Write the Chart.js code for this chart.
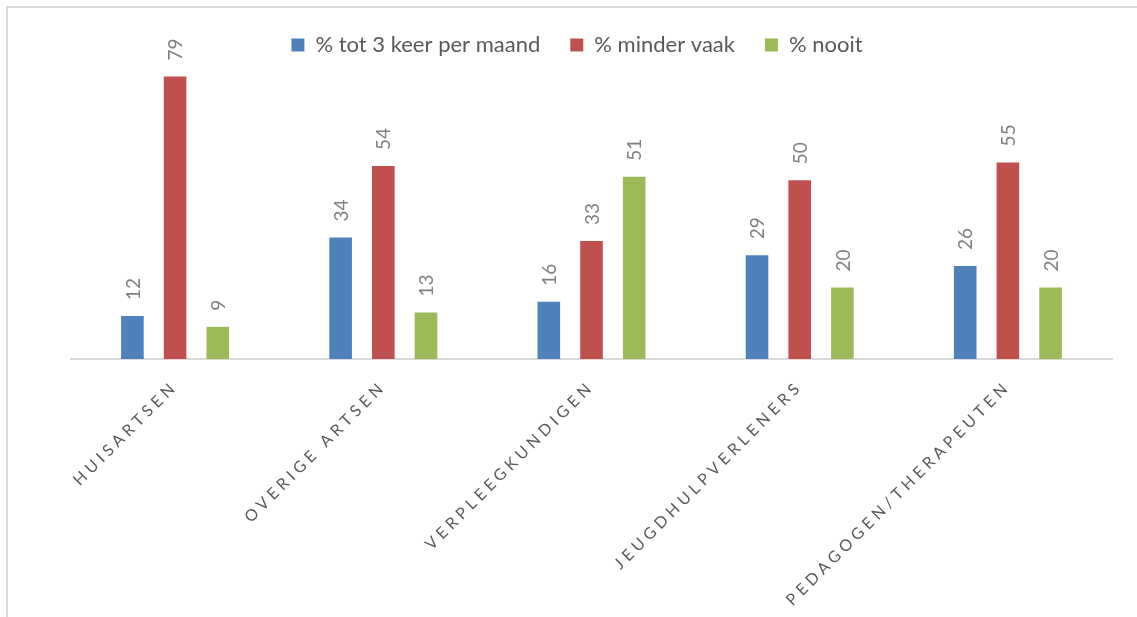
<!DOCTYPE html>
<html>
<head>
<meta charset="utf-8">
<script src="https://cdn.jsdelivr.net/npm/chart.js@4/dist/chart.umd.min.js"></script>
<style>
  html, body { margin: 0; padding: 0; background: #ffffff; overflow: hidden; }
  #wrap { position: relative; width: 1137px; height: 617px; }
  #frame { position: absolute; left: 6px; top: 6px; width: 1300px; height: 800px; border: 2px solid #d9d9d9; box-sizing: border-box; pointer-events: none; }
  canvas { position: absolute; left: 0; top: 0; }
</style>
</head>
<body>
<div id="wrap">
  <div id="frame"></div>
  <canvas id="c" width="1137" height="617"></canvas>
</div>
<script>
// ---- data ----
const categories = ['HUISARTSEN', 'OVERIGE ARTSEN', 'VERPLEEGKUNDIGEN', 'JEUGDHULPVERLENERS', 'PEDAGOGEN/THERAPEUTEN'];
const seriesNames = ['% tot 3 keer per maand', '% minder vaak', '% nooit'];
const totDrieKeer = [12, 34, 16, 29, 26];
const minderVaak = [79, 54, 33, 50, 55];
const nooit = [9, 13, 51, 20, 20];
const seriesColors = ['#4f81bd', '#c0504d', '#9bbb59'];

const FONT = 'Lato';

class SpacedCategoryScale extends Chart.CategoryScale {
  static id = 'spacedCategory';
  static defaults = Chart.CategoryScale.defaults;
  drawLabels(chartArea) {
    const ctx = this.ctx;
    ctx.save();
    ctx.letterSpacing = '4.3px';
    super.drawLabels(chartArea);
    ctx.restore();
  }
}
Chart.register(SpacedCategoryScale);

const valueLabels = {
  id: 'valueLabels',
  afterDatasetsDraw(chart) {
    const ctx = chart.ctx;
    ctx.save();
    ctx.font = '19px ' + FONT;
    ctx.fillStyle = '#808080';
    ctx.textAlign = 'left';
    ctx.textBaseline = 'middle';
    chart.data.datasets.forEach((ds, i) => {
      chart.getDatasetMeta(i).data.forEach((bar, j) => {
        ctx.save();
        ctx.translate(bar.x + 1, bar.y - 16);
        ctx.rotate(-Math.PI / 2);
        ctx.fillText(String(ds.data[j]), 0, 0);
        ctx.restore();
      });
    });
    ctx.restore();
  }
};

const seriesData = [totDrieKeer, minderVaak, nooit];

new Chart(document.getElementById('c'), {
  type: 'bar',
  data: {
    labels: categories,
    datasets: seriesNames.map((name, i) => ({
      label: name,
      data: seriesData[i],
      backgroundColor: seriesColors[i],
      borderWidth: 0,
      categoryPercentage: 0.615,
      barPercentage: 0.53
    }))
  },
  options: {
    responsive: false,
    animation: false,
    layout: { padding: { left: 42, right: 25, top: 4, bottom: 0 } },
    plugins: {
      legend: {
        position: 'top',
        labels: {
          color: '#595959',
          font: { family: FONT, size: 22 },
          boxWidth: 13,
          boxHeight: 13,
          padding: 30
        }
      },
      tooltip: { enabled: false }
    },
    scales: {
      x: {
        type: 'spacedCategory',
        grid: { display: false, drawTicks: false },
        border: { display: true, color: '#d9d9d9', width: 2 },
        ticks: {
          color: '#595959',
          font: { family: FONT, size: 16 },
          minRotation: 45,
          maxRotation: 45,
          padding: 18,
          autoSkip: false
        },
        afterFit(scale) { scale.height = 258; }
      },
      xTopGap: {
        type: 'category',
        position: 'top',
        display: true,
        grid: { display: false, drawTicks: false },
        border: { display: false },
        ticks: { display: false },
        afterFit(scale) { scale.height = 7; }
      },
      y: {
        display: true,
        min: 0,
        max: 80,
        grid: { display: false, drawTicks: false },
        border: { display: false },
        ticks: { display: false },
        afterFit(scale) { scale.width = 29; }
      }
    }
  },
  plugins: [valueLabels]
});
</script>
</body>
</html>
